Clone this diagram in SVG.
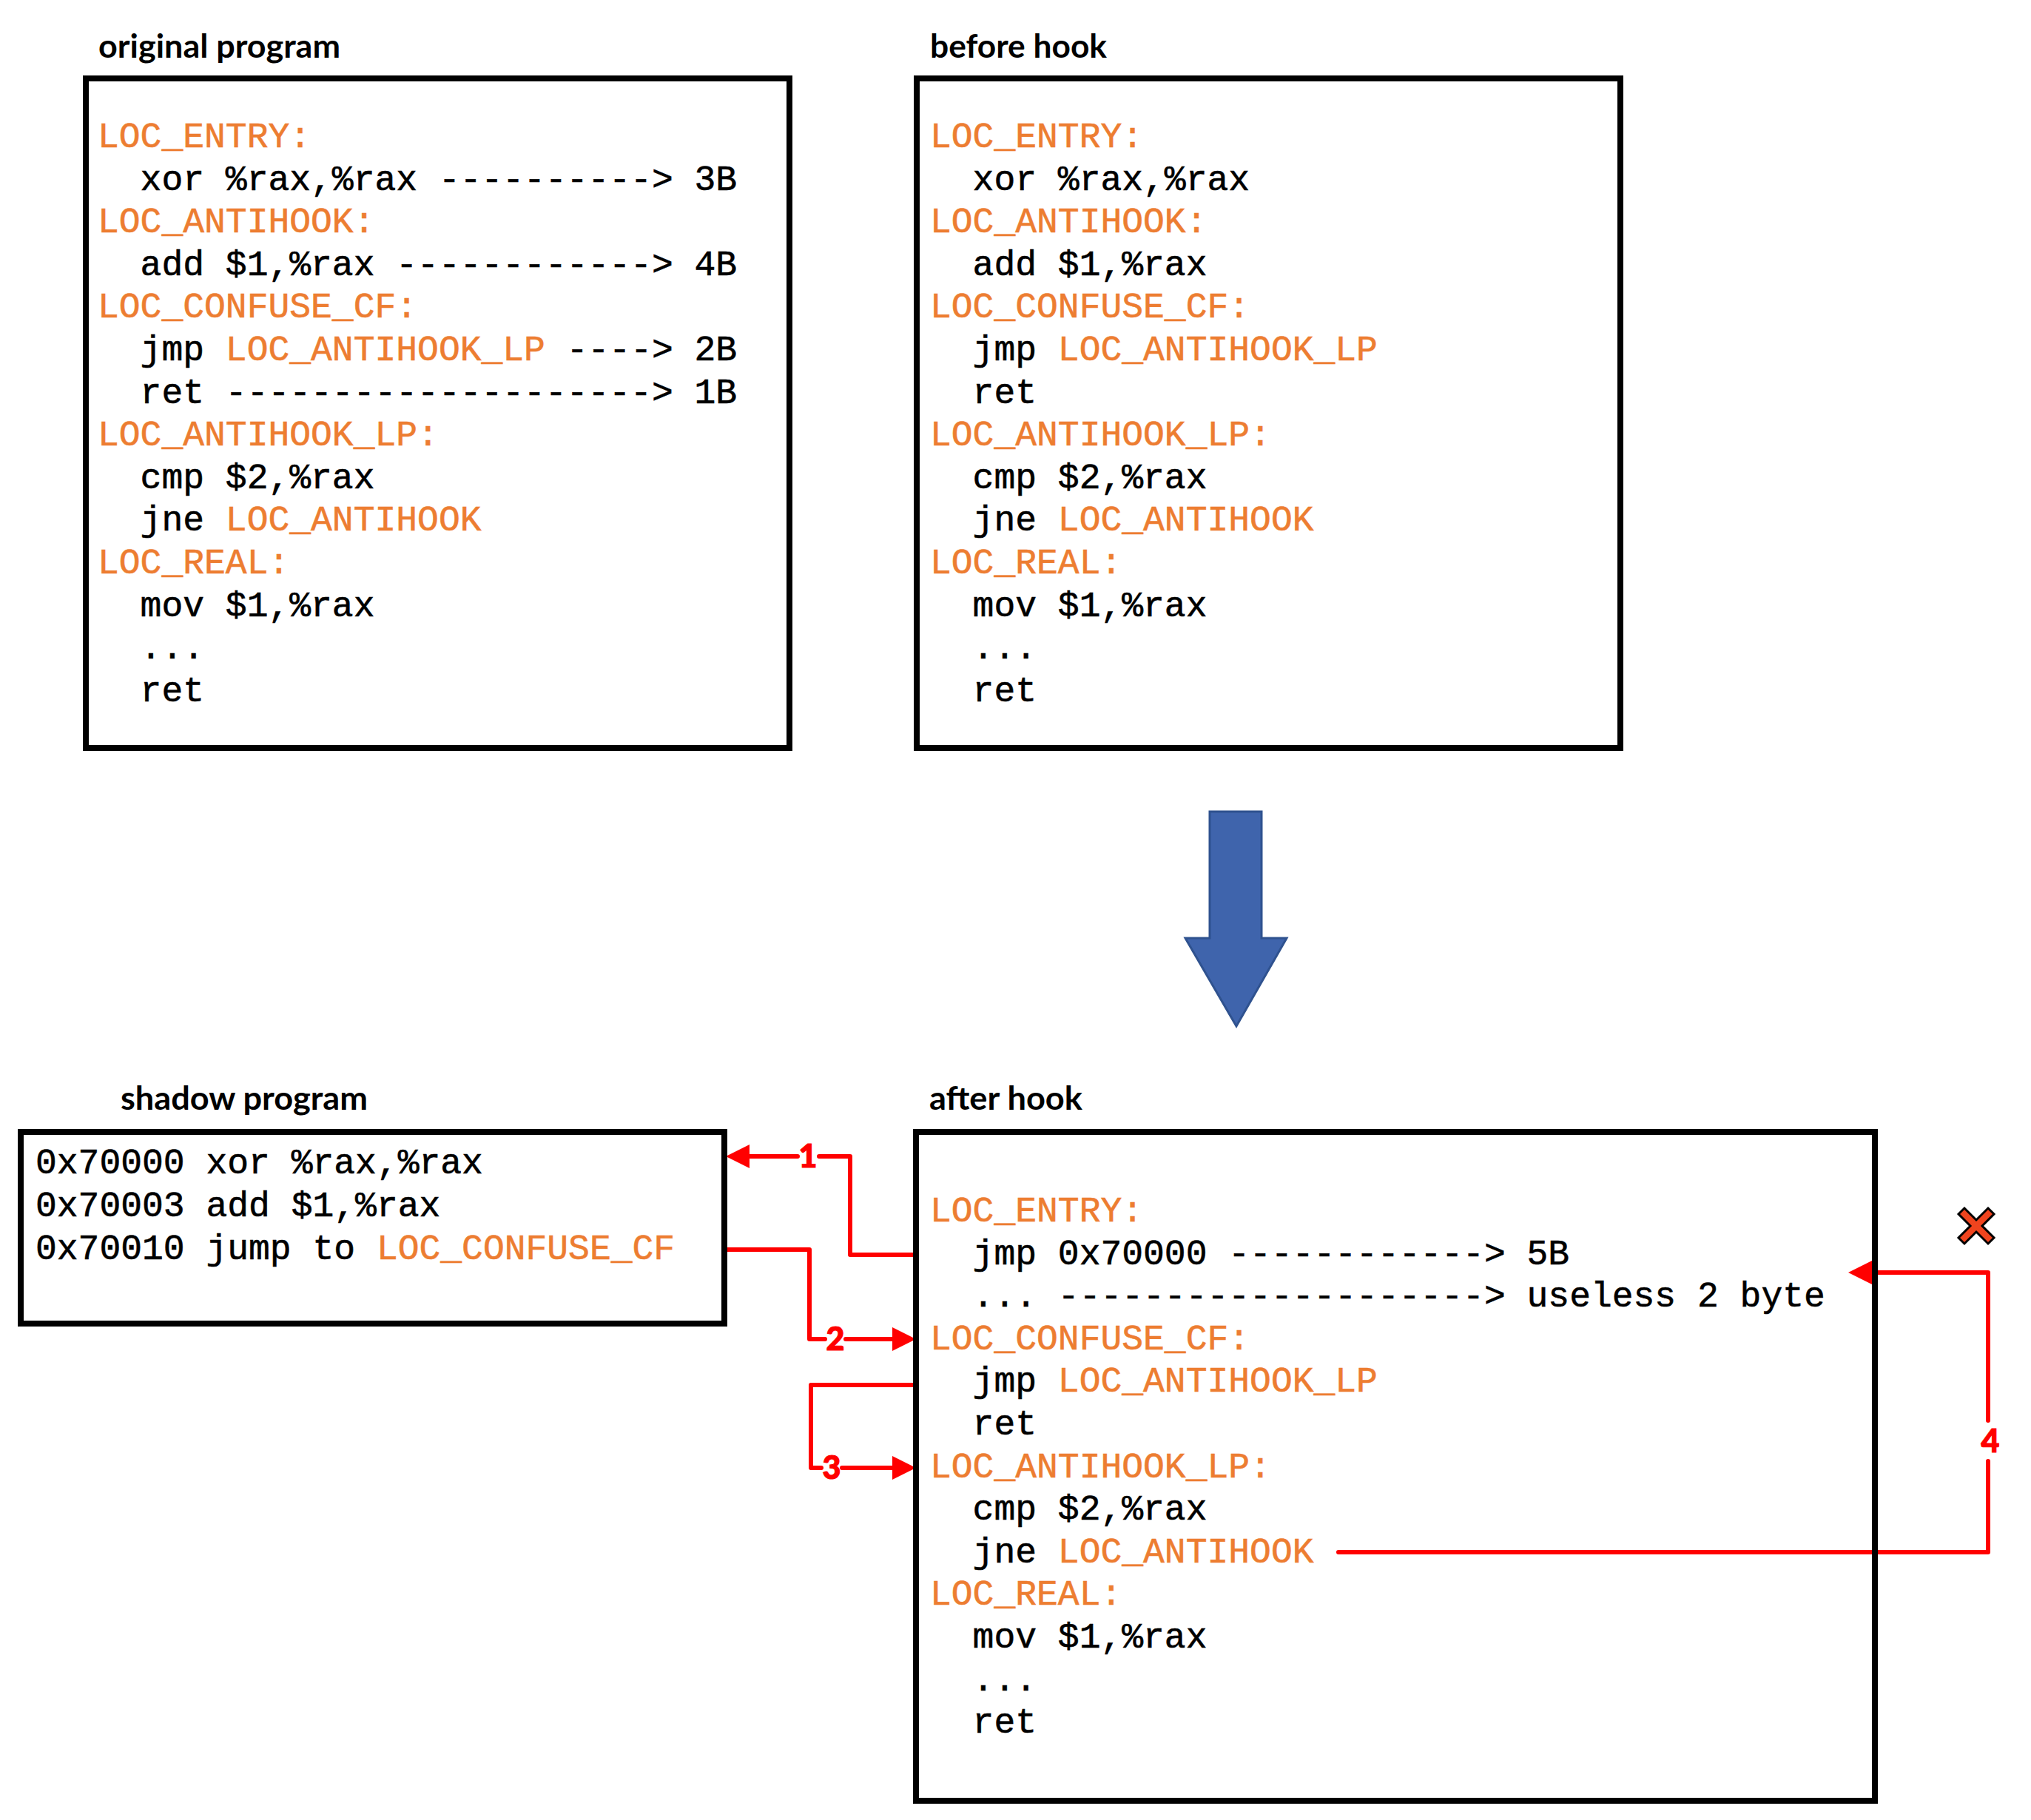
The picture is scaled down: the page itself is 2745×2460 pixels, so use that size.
<svg xmlns="http://www.w3.org/2000/svg" width="2745" height="2460" viewBox="0 0 2745 2460">
<style>
.code{font-family:"Liberation Mono","Courier New",monospace;font-size:48px;fill:#000;stroke:#000;stroke-width:0.6;white-space:pre}
.o{fill:#ED7D31;stroke:#ED7D31}
.title{font-family:Lato,"Liberation Sans",sans-serif;font-weight:700;font-size:44px;fill:#000}
.box{fill:none;stroke:#000;stroke-width:8}
.conn{fill:none;stroke:#FF0000;stroke-width:6;stroke-linejoin:round;stroke-linecap:round}
.head{fill:#FF0000}
.lbl{font-family:Lato,"Liberation Sans",sans-serif;font-weight:900;font-size:43px;fill:#FF0000;stroke:#FF0000;stroke-width:1.2;text-anchor:middle}
</style>
<rect width="2745" height="2460" fill="#fff"/>

<g id="connectors">
  <path class="conn" d="M1238,1696 H1149 V1563 H1107 M1078,1563 H1010"/>
  <polygon class="head" points="981,1563 1013,1547 1013,1579"/>
  <path class="conn" d="M979,1689 H1094 V1810 H1115 M1143,1810 H1210"/>
  <polygon class="head" points="1238,1810 1206,1794 1206,1826"/>
  <path class="conn" d="M1238,1872 H1096 V1984 H1110 M1138,1984 H1210"/>
  <polygon class="head" points="1238,1984 1206,1968 1206,2000"/>
  <path class="conn" d="M1809,2098 H2687 V1975 M2687,1920 V1720 H2528"/>
  <polygon class="head" points="2498,1720 2530,1704 2530,1736"/>
  <text class="lbl" x="1092" y="1578">1</text>
  <text class="lbl" x="1129" y="1825">2</text>
  <text class="lbl" x="1124" y="1999">3</text>
  <text class="lbl" x="2690" y="1963">4</text>
</g>

<g id="original-program">
  <text class="title" x="133" y="78" textLength="327" lengthAdjust="spacingAndGlyphs">original program</text>
  <rect class="box" x="116" y="106" width="951" height="905"/>
  <text class="code" xml:space="preserve">
    <tspan x="132" y="199" class="o">LOC_ENTRY:</tspan>
    <tspan x="132" y="256.6">  xor %rax,%rax ----------&gt; 3B</tspan>
    <tspan x="132" y="314.2" class="o">LOC_ANTIHOOK:</tspan>
    <tspan x="132" y="371.8">  add $1,%rax ------------&gt; 4B</tspan>
    <tspan x="132" y="429.4" class="o">LOC_CONFUSE_CF:</tspan>
    <tspan x="132" y="487">  jmp <tspan class="o">LOC_ANTIHOOK_LP</tspan> ----&gt; 2B</tspan>
    <tspan x="132" y="544.6">  ret --------------------&gt; 1B</tspan>
    <tspan x="132" y="602.2" class="o">LOC_ANTIHOOK_LP:</tspan>
    <tspan x="132" y="659.8">  cmp $2,%rax</tspan>
    <tspan x="132" y="717.4">  jne <tspan class="o">LOC_ANTIHOOK</tspan></tspan>
    <tspan x="132" y="775" class="o">LOC_REAL:</tspan>
    <tspan x="132" y="832.6">  mov $1,%rax</tspan>
    <tspan x="132" y="890.2">  ...</tspan>
    <tspan x="132" y="947.8">  ret</tspan>
  </text>
</g>

<g id="before-hook">
  <text class="title" x="1257" y="78" textLength="239" lengthAdjust="spacingAndGlyphs">before hook</text>
  <rect class="box" x="1239" y="106" width="951" height="905"/>
  <text class="code" xml:space="preserve">
    <tspan x="1257" y="199" class="o">LOC_ENTRY:</tspan>
    <tspan x="1257" y="256.6">  xor %rax,%rax</tspan>
    <tspan x="1257" y="314.2" class="o">LOC_ANTIHOOK:</tspan>
    <tspan x="1257" y="371.8">  add $1,%rax</tspan>
    <tspan x="1257" y="429.4" class="o">LOC_CONFUSE_CF:</tspan>
    <tspan x="1257" y="487">  jmp <tspan class="o">LOC_ANTIHOOK_LP</tspan></tspan>
    <tspan x="1257" y="544.6">  ret</tspan>
    <tspan x="1257" y="602.2" class="o">LOC_ANTIHOOK_LP:</tspan>
    <tspan x="1257" y="659.8">  cmp $2,%rax</tspan>
    <tspan x="1257" y="717.4">  jne <tspan class="o">LOC_ANTIHOOK</tspan></tspan>
    <tspan x="1257" y="775" class="o">LOC_REAL:</tspan>
    <tspan x="1257" y="832.6">  mov $1,%rax</tspan>
    <tspan x="1257" y="890.2">  ...</tspan>
    <tspan x="1257" y="947.8">  ret</tspan>
  </text>
</g>

<g id="transform-arrow">
  <polygon points="1635,1097 1705,1097 1705,1268 1739,1268 1671,1387 1602,1268 1635,1268" fill="#3F64AC" stroke="#2F528F" stroke-width="3" stroke-linejoin="miter"/>
</g>

<g id="shadow-program">
  <text class="title" x="163" y="1500" textLength="334" lengthAdjust="spacingAndGlyphs">shadow program</text>
  <rect class="box" x="28" y="1530" width="951" height="259"/>
  <text class="code" xml:space="preserve">
    <tspan x="48" y="1586">0x70000 xor %rax,%rax</tspan>
    <tspan x="48" y="1644">0x70003 add $1,%rax</tspan>
    <tspan x="48" y="1702">0x70010 jump to <tspan class="o">LOC_CONFUSE_CF</tspan></tspan>
  </text>
</g>

<g id="after-hook">
  <text class="title" x="1256" y="1500" textLength="207" lengthAdjust="spacingAndGlyphs">after hook</text>
  <rect class="box" x="1238" y="1530" width="1296" height="904"/>
  <text class="code" xml:space="preserve">
    <tspan x="1257" y="1651" class="o">LOC_ENTRY:</tspan>
    <tspan x="1257" y="1708.6">  jmp 0x70000 ------------&gt; 5B</tspan>
    <tspan x="1257" y="1766.2">  ... --------------------&gt; useless 2 byte</tspan>
    <tspan x="1257" y="1823.8" class="o">LOC_CONFUSE_CF:</tspan>
    <tspan x="1257" y="1881.4">  jmp <tspan class="o">LOC_ANTIHOOK_LP</tspan></tspan>
    <tspan x="1257" y="1939">  ret</tspan>
    <tspan x="1257" y="1996.6" class="o">LOC_ANTIHOOK_LP:</tspan>
    <tspan x="1257" y="2054.2">  cmp $2,%rax</tspan>
    <tspan x="1257" y="2111.8">  jne <tspan class="o">LOC_ANTIHOOK</tspan></tspan>
    <tspan x="1257" y="2169.4" class="o">LOC_REAL:</tspan>
    <tspan x="1257" y="2227">  mov $1,%rax</tspan>
    <tspan x="1257" y="2284.6">  ...</tspan>
    <tspan x="1257" y="2342.2">  ret</tspan>
  </text>
</g>

<g id="blocked-mark">
  <polygon transform="translate(2671,1657)" points="-24,-16 -16,-24 0,-8 16,-24 24,-16 8,0 24,16 16,24 0,8 -16,24 -24,16 -8,0" fill="#F0441E" stroke="#000" stroke-width="3" stroke-linejoin="miter"/>
</g>
</svg>
